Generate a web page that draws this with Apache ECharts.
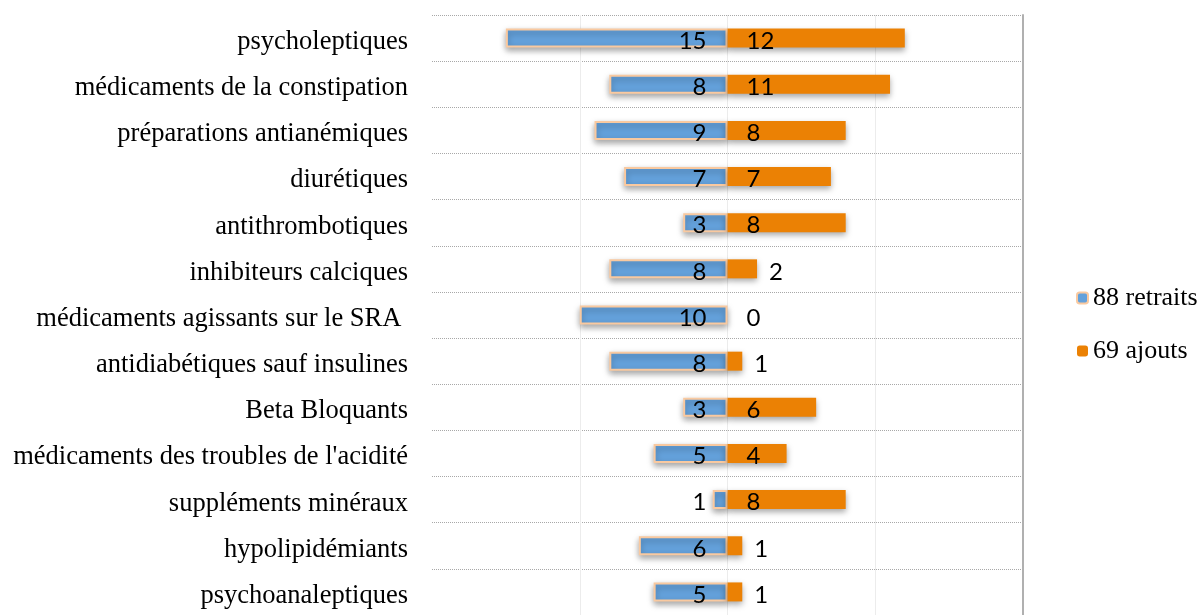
<!DOCTYPE html>
<html>
<head>
<meta charset="utf-8">
<script src="https://cdn.jsdelivr.net/npm/echarts@6/dist/echarts.min.js"></script>
<style>
  html, body { margin: 0; padding: 0; background: #fff; }
  #chart { width: 1201px; height: 615px; }
</style>
</head>
<body>
<div id="chart"></div>
<script>
  // categories top to bottom
  const categories = [
    'psycholeptiques',
    'médicaments de la constipation',
    'préparations antianémiques',
    'diurétiques',
    'antithrombotiques',
    'inhibiteurs calciques',
    'médicaments agissants sur le SRA ',
    'antidiabétiques sauf insulines',
    'Beta Bloquants',
    "médicaments des troubles de l'acidité",
    'suppléments minéraux',
    'hypolipidémiants',
    'psychoanaleptiques'
  ]
  const retraits = [15, 8, 9, 7, 3, 8, 10, 8, 3, 5, 1, 6, 5]
  const ajouts = [12, 11, 8, 7, 8, 2, 0, 1, 6, 4, 8, 1, 1]
  const seriesNames = ['88 retraits', '69 ajouts']

  const serif = 'Liberation Serif'
  const numFont = 'Lato'

  const chart = echarts.init(document.getElementById('chart'))

  let option = {
    animation: false,
    grid: {
      left: 432,
      right: 178,
      top: 15,
      bottom: -8
    },
    legend: {
      orient: 'vertical',
      left: 1071,
      top: 280,
      itemWidth: 11,
      itemHeight: 11,
      itemGap: 27,
      textStyle: { fontFamily: serif, fontSize: 26, color: '#000' },
      data: seriesNames
    },
    xAxis: {
      type: 'value',
      min: -20,
      max: 20,
      interval: 10,
      axisLabel: { show: false },
      axisLine: { show: false },
      axisTick: { show: false },
      splitLine: {
        show: true,
        lineStyle: { color: ['rgba(0,0,0,0)', '#ececec', '#ececec', '#ececec', 'rgba(0,0,0,0)'], width: 1 }
      }
    },
    yAxis: [
      {
        type: 'category',
        inverse: true,
        data: categories,
        axisLine: { show: false },
        axisTick: { show: false },
        axisLabel: {
          margin: 24,
          formatter: '{c|{value}}',
          rich: {
            c: { fontFamily: serif, fontSize: 26.5, color: '#000', padding: [8, 0, 0, 0] }
          }
        },
        splitLine: { show: true, lineStyle: { color: '#a8a8a8', type: 'dotted', width: 1 } }
      },
      {
        type: 'category',
        inverse: true,
        position: 'right',
        data: categories,
        axisLine: { show: true, lineStyle: { color: '#b0b0b0', width: 2 } },
        axisTick: { show: false },
        axisLabel: { show: false },
        splitLine: { show: false }
      }
    ],
    series: [
      {
        name: seriesNames[0],
        type: 'bar',
        barWidth: 19,
        barGap: '-100%',
        data: retraits.map(v => -v),
        itemStyle: {
          color: '#64a1db',
          borderColor: '#f9c9a0',
          borderWidth: 2,
          shadowColor: 'rgba(0,0,0,0.35)',
          shadowBlur: 6,
          shadowOffsetY: 3
        },
        label: {
          show: true,
          position: 'insideRight',
          distance: 21,
          offset: [0, 3],
          fontFamily: numFont,
          fontSize: 24,
          color: '#000',
          formatter: p => Math.abs(p.value)
        }
      },
      {
        name: seriesNames[1],
        type: 'bar',
        barWidth: 19,
        data: ajouts.map(v => ({
          value: v,
          label: v < 3 ? { position: 'right', distance: v === 0 ? 19 : 12 } : {}
        })),
        itemStyle: {
          color: '#eb8104',
          shadowColor: 'rgba(0,0,0,0.35)',
          shadowBlur: 6,
          shadowOffsetY: 3
        },
        label: {
          show: true,
          position: 'insideLeft',
          distance: 19,
          offset: [0, 3],
          fontFamily: numFont,
          fontSize: 24,
          color: '#000'
        }
      }
    ]
  }
  chart.setOption(option)
</script>
</body>
</html>
